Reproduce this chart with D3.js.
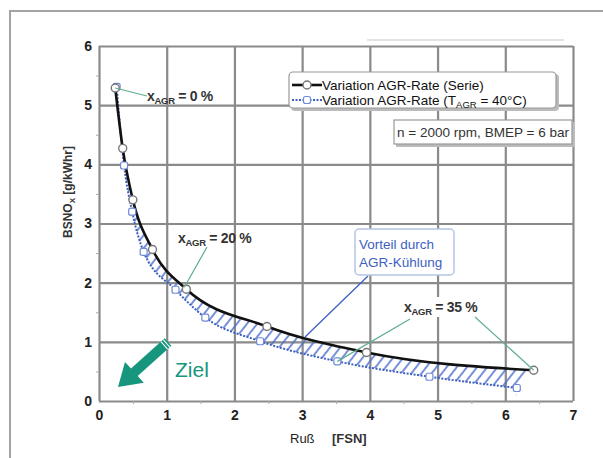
<!DOCTYPE html>
<html>
<head>
<meta charset="utf-8">
<script src="https://cdn.jsdelivr.net/npm/d3@7"></script>
<style>
  body { margin: 0; background: #fff; }
  svg { font-family: "Liberation Sans", Arial, sans-serif; }
</style>
</head>
<body>
<svg id="chart" width="603" height="458"></svg>
<script>
// values
const serieX = [0.24, 0.35, 0.50, 0.79, 1.29, 2.48, 3.95, 6.42];
const serieY = [5.29, 4.27, 3.40, 2.56, 1.89, 1.26, 0.82, 0.52];
const coolX = [0.26, 0.37, 0.49, 0.66, 1.13, 1.57, 2.38, 3.52, 4.88, 6.17];
const coolY = [5.31, 3.98, 3.20, 2.52, 1.88, 1.41, 1.01, 0.67, 0.41, 0.22];
const xTicks = [0, 1, 2, 3, 4, 5, 6, 7];
const yTicks = [0, 1, 2, 3, 4, 5, 6];
const legendLabels = ["Variation AGR-Rate (Serie)", "Variation AGR-Rate (T", "AGR", " = 40°C)"];

const serie = serieX.map((d, i) => ({ x: d, y: serieY[i] }));
const cool = coolX.map((d, i) => ({ x: d, y: coolY[i] }));

const svg = d3.select("#chart");
const x = d3.scaleLinear().domain([0, 7]).range([99, 573]);
const y = d3.scaleLinear().domain([0, 6]).range([401, 46]);

const blue = "#3d5fc2";
const green = "#17957d";

// outer frame
svg.append("path").attr("d", "M10,458 V11 H603").attr("fill", "none").attr("stroke", "#a3a3a3").attr("stroke-width", 2);
svg.append("line").attr("x1", 367).attr("x2", 564).attr("y1", 40).attr("y2", 40).attr("stroke", "#c8c8c8").attr("stroke-width", 1);

const defs = svg.append("defs");
const pat = defs.append("pattern").attr("id", "hatch").attr("patternUnits", "userSpaceOnUse")
  .attr("width", 8).attr("height", 8).attr("patternTransform", "rotate(38)");
pat.append("line").attr("x1", 2).attr("x2", 2).attr("y1", 0).attr("y2", 8)
  .attr("stroke", "#4a6ccc").attr("stroke-width", 1.5);

const areaGen = d3.area().x(d => x(d.x)).y0(y(0)).y1(d => y(d.y)).curve(d3.curveMonotoneX);
const mask = defs.append("mask").attr("id", "between");
mask.append("path").attr("d", areaGen(serie)).attr("fill", "white");
mask.append("path").attr("d", areaGen(cool)).attr("fill", "black");
mask.append("rect").attr("x", 0).attr("y", 0).attr("width", x(cool[0].x) + 1).attr("height", 458).attr("fill", "black");
const lastS = serie[serie.length - 1], lastC = cool[cool.length - 1];
mask.append("path").attr("fill", "black")
  .attr("d", `M${x(lastC.x)},${y(lastC.y)} L${x(lastS.x)},${y(lastS.y)} L${x(lastS.x) + 2},${y(0)} L${x(lastC.x)},${y(0)} Z`);

// grid
const gx = svg.append("g").attr("transform", `translate(0,${y(0)})`)
  .call(d3.axisBottom(x).tickValues(xTicks).tickSize(-(y(0) - y(6))).tickPadding(6).tickFormat(d3.format("d")));
const gy = svg.append("g").attr("transform", `translate(${x(0)},0)`)
  .call(d3.axisLeft(y).tickValues(yTicks).tickSize(-(x(7) - x(0))).tickPadding(7).tickFormat(d3.format("d")));
[gx, gy].forEach(g => {
  g.select(".domain").remove();
  g.selectAll(".tick line").attr("stroke", "#8a8a8a").attr("stroke-width", 2.2);
  g.selectAll(".tick text").attr("font-size", 14).attr("font-weight", "bold").attr("fill", "#222")
    .attr("font-family", "Liberation Sans, Arial, sans-serif");
});
gx.selectAll(".tick text").attr("dy", "0.9em");
// minor ticks
svg.append("g").attr("transform", `translate(0,${y(0)})`)
  .call(d3.axisBottom(x).tickValues(d3.range(0.5, 7, 1)).tickSize(3).tickFormat(""))
  .call(g => g.select(".domain").remove())
  .selectAll("line").attr("stroke", "#aaa");
svg.append("g").attr("transform", `translate(${x(0)},0)`)
  .call(d3.axisLeft(y).tickValues(d3.range(0.5, 6, 1)).tickSize(3).tickFormat(""))
  .call(g => g.select(".domain").remove())
  .selectAll("line").attr("stroke", "#aaa");

// hatched area
svg.append("rect").attr("x", x(0)).attr("y", y(6)).attr("width", x(7) - x(0)).attr("height", y(0) - y(6))
  .attr("fill", "url(#hatch)").attr("mask", "url(#between)");

// label backgrounds
svg.append("rect").attr("x", 400).attr("y", 297).attr("width", 92).attr("height", 20).attr("fill", "white");

// lines
const lineGen = d3.line().x(d => x(d.x)).y(d => y(d.y)).curve(d3.curveMonotoneX);
svg.append("path").attr("d", lineGen(cool)).attr("fill", "none").attr("stroke", blue)
  .attr("stroke-width", 2).attr("stroke-dasharray", "2,1.5");
svg.append("path").attr("d", lineGen(serie)).attr("fill", "none").attr("stroke", "#111").attr("stroke-width", 2.6);

svg.selectAll(".cm").data(cool).enter().append("rect").attr("class", "cm")
  .attr("x", d => x(d.x) - 3.5).attr("y", d => y(d.y) - 3.5).attr("width", 7).attr("height", 7).attr("rx", 2)
  .attr("fill", "white").attr("stroke", "#6f8ad6").attr("stroke-width", 1.2);
svg.selectAll(".sm").data(serie).enter().append("circle").attr("class", "sm")
  .attr("cx", d => x(d.x)).attr("cy", d => y(d.y)).attr("r", 4)
  .attr("fill", "white").attr("stroke", "#777").attr("stroke-width", 1.4);

// green leaders
const leaders = [
  [x(serie[0].x), y(serie[0].y), 147, 96],
  [207, 247, x(serie[4].x) - 2, y(serie[4].y) - 2],
  [410, 319, x(cool[7].x), y(cool[7].y)],
  [475, 317, x(lastS.x), y(lastS.y)]
];
svg.selectAll(".lead").data(leaders).enter().append("line")
  .attr("x1", d => d[0]).attr("y1", d => d[1]).attr("x2", d => d[2]).attr("y2", d => d[3])
  .attr("stroke", "#5fae90").attr("stroke-width", 1.2);

// x_AGR labels
function agrLabel(px, py, pct) {
  const t = svg.append("text").attr("x", px).attr("y", py).attr("font-size", 14).attr("font-weight", "bold")
    .attr("fill", "#333").attr("letter-spacing", -0.3);
  t.append("tspan").text("x");
  t.append("tspan").attr("font-size", 9.5).attr("dy", 3).text("AGR");
  t.append("tspan").attr("dy", -3).text(" = " + pct + " %");
}
agrLabel(147, 101, 0);
agrLabel(178, 243, 20);
agrLabel(404, 312, 35);

// Vorteil box
svg.append("line").attr("x1", 368).attr("y1", 276).attr("x2", 305).attr("y2", 337)
  .attr("stroke", blue).attr("stroke-width", 1.3);
svg.append("rect").attr("x", 355).attr("y", 229).attr("width", 99).attr("height", 46).attr("rx", 4)
  .attr("fill", "white").attr("stroke", "#b8c4e8").attr("stroke-width", 1.5);
svg.append("text").attr("x", 359).attr("y", 249).attr("font-size", 13.5).attr("fill", blue).text("Vorteil durch");
svg.append("text").attr("x", 359).attr("y", 267).attr("font-size", 13.5).attr("fill", blue).text("AGR-Kühlung");

// legend
svg.append("rect").attr("x", 291).attr("y", 74).attr("width", 268).attr("height", 37).attr("rx", 4).attr("fill", "#bbb");
svg.append("rect").attr("x", 289).attr("y", 72).attr("width", 267).attr("height", 36).attr("rx", 4)
  .attr("fill", "white").attr("stroke", "#999").attr("stroke-width", 1.2);
svg.append("line").attr("x1", 292).attr("x2", 322).attr("y1", 85).attr("y2", 85).attr("stroke", "#111").attr("stroke-width", 2.6);
svg.append("circle").attr("cx", 307).attr("cy", 85).attr("r", 4).attr("fill", "white").attr("stroke", "#777").attr("stroke-width", 1.4);
svg.append("line").attr("x1", 292).attr("x2", 322).attr("y1", 100).attr("y2", 100).attr("stroke", blue)
  .attr("stroke-width", 2).attr("stroke-dasharray", "2,1.5");
svg.append("rect").attr("x", 303.5).attr("y", 96.5).attr("width", 7).attr("height", 7).attr("rx", 2)
  .attr("fill", "white").attr("stroke", "#6f8ad6").attr("stroke-width", 1.2);
svg.append("text").attr("x", 322).attr("y", 90).attr("font-size", 13.5).attr("fill", "#111").text(legendLabels[0]);
const l2 = svg.append("text").attr("x", 322).attr("y", 105).attr("font-size", 13.5).attr("fill", "#111");
l2.append("tspan").text(legendLabels[1]);
l2.append("tspan").attr("font-size", 9.5).attr("dy", 3).text(legendLabels[2]);
l2.append("tspan").attr("dy", -3).text(legendLabels[3]);

// operating point box
svg.append("rect").attr("x", 396).attr("y", 122).attr("width", 179).attr("height", 25).attr("fill", "#bbb");
svg.append("rect").attr("x", 394).attr("y", 120).attr("width", 178).attr("height", 24)
  .attr("fill", "white").attr("stroke", "#999").attr("stroke-width", 1.2);
svg.append("text").attr("x", 397).attr("y", 137).attr("font-size", 13).attr("fill", "#333")
  .attr("textLength", 172).attr("lengthAdjust", "spacingAndGlyphs").text("n = 2000 rpm, BMEP = 6 bar");

// Ziel arrow
const tail = [168, 342], tip = [118, 387];
const ang = Math.atan2(tip[1] - tail[1], tip[0] - tail[0]) * 180 / Math.PI;
const len = Math.hypot(tip[0] - tail[0], tip[1] - tail[1]);
const arrow = svg.append("g").attr("transform", `translate(${tail[0]},${tail[1]}) rotate(${ang})`);
arrow.append("path").attr("fill", green)
  .attr("d", `M0,-5 L${len - 22},-5 L${len - 22},-14 L${len},0 L${len - 22},14 L${len - 22},5 L0,5 Z`);
arrow.append("line").attr("x1", 2).attr("x2", 2).attr("y1", -5).attr("y2", 5).attr("stroke", "white").attr("stroke-width", 1);
arrow.append("line").attr("x1", 5).attr("x2", 5).attr("y1", -5).attr("y2", 5).attr("stroke", "white").attr("stroke-width", 1);
svg.append("text").attr("x", 175).attr("y", 377).attr("font-size", 21).attr("fill", green).text("Ziel");

// axis titles
const yt = svg.append("text").attr("transform", "translate(72,192) rotate(-90)").attr("text-anchor", "middle")
  .attr("font-size", 12).attr("font-weight", "bold").attr("fill", "#333");
yt.append("tspan").text("BSNO");
yt.append("tspan").attr("font-size", 8).attr("dy", 3).text("X");
yt.append("tspan").attr("dy", -3).text(" [g/kWhr]");
svg.append("text").attr("x", 290).attr("y", 443).attr("font-size", 13).attr("fill", "#222").text("Ruß");
svg.append("text").attr("x", 332).attr("y", 443).attr("font-size", 13).attr("font-weight", "bold").attr("fill", "#333").text("[FSN]");
</script>
</body>
</html>
